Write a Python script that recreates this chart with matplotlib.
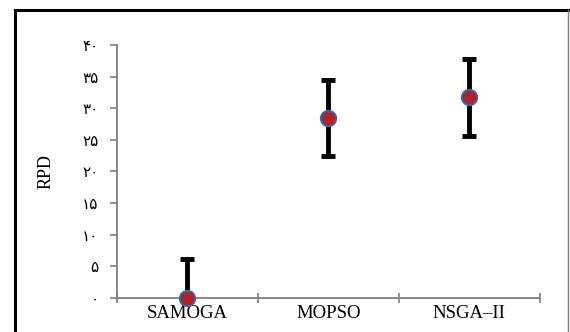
import matplotlib.pyplot as plt
from matplotlib.lines import Line2D

# data
methods = ['SAMOGA', 'MOPSO', 'NSGA\u2013II']
rpd_mean = [0.0, 28.5, 31.7]
rpd_err = [6.1, 6.0, 6.1]
y_ticks = [0, 5, 10, 15, 20, 25, 30, 35, 40]

persian = str.maketrans('0123456789', '\u06f0\u06f1\u06f2\u06f3\u06f4\u06f5\u06f6\u06f7\u06f8\u06f9')

fig = plt.figure(figsize=(5.7, 3.32), dpi=100)
ax = fig.add_axes([0.205, 0.1024, 0.742, 0.7621])

x = [i + 0.5 for i in range(len(methods))]

# error bars (clipped at the axis), markers on top
ax.errorbar(x, rpd_mean, yerr=rpd_err, fmt='none', ecolor='black',
            elinewidth=3.5, capsize=5, capthick=3.5, zorder=2)
ax.scatter(x, rpd_mean, s=125, color='#b0212b', edgecolor='#2a6db8',
           linewidth=1.3, zorder=3, clip_on=False)

ax.set_xlim(0, 3)
ax.set_ylim(0, 40)
ax.set_xticks([0, 1, 2, 3])
ax.set_xticklabels([])
ax.set_xticks(x, minor=True)
ax.set_xticklabels(methods, minor=True, family='Liberation Serif', fontsize=13.5)
ax.tick_params(axis='x', which='minor', length=0, pad=5)
ax.tick_params(axis='x', which='major', direction='inout', length=7, color='#7f7f7f', width=1.2)

ax.set_yticks(y_ticks)
ax.set_yticklabels([str(v).translate(persian) for v in y_ticks],
                   family='DejaVu Sans', fontsize=11)
ax.tick_params(axis='y', direction='out', length=5, color='#7f7f7f', width=1.2, pad=8)

for side in ['top', 'right']:
    ax.spines[side].set_visible(False)
for side in ['left', 'bottom']:
    ax.spines[side].set_color('#7f7f7f')
    ax.spines[side].set_linewidth(1.3)

ax.set_ylabel('RPD', family='Liberation Serif', fontsize=13, labelpad=20)

# outer frame of the chart area: black top/left, thin grey right
W, H = 570, 332
fig.add_artist(Line2D([15 / W, 568 / W], [1 - 10 / H, 1 - 10 / H], color='black', lw=2.2))
fig.add_artist(Line2D([15 / W, 15 / W], [0, 1 - 10 / H], color='black', lw=2.2))
fig.add_artist(Line2D([568 / W, 568 / W], [0, 1 - 10 / H], color='#7f7f7f', lw=1))

fig.savefig('out.png', dpi=100)
